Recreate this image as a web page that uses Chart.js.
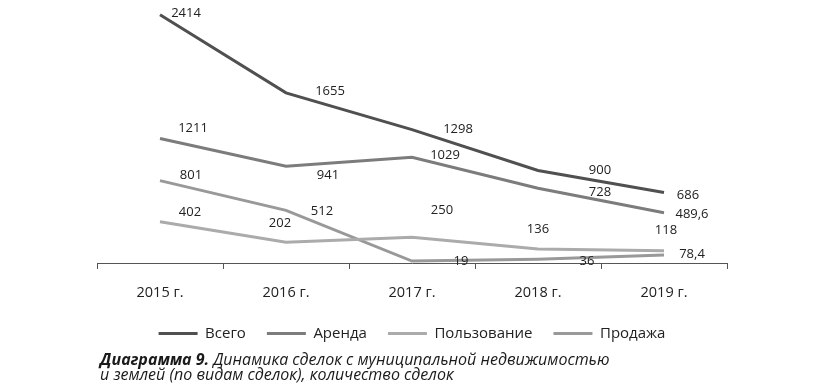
<!DOCTYPE html>
<html lang="ru">
<head>
<meta charset="utf-8">
<script src="https://cdn.jsdelivr.net/npm/chart.js@4.4.1/dist/chart.umd.min.js"></script>
<style>
  html, body { margin: 0; padding: 0; background: #fff; }
  #wrap { position: relative; width: 830px; height: 391px; }
  #chart-box { position: absolute; left: 0; top: 0; width: 830px; height: 351px; }
  #caption {
    position: absolute; left: 100px; top: 352px;
    font-family: "Open Sans", sans-serif; font-style: italic;
    font-size: 16px; line-height: 14.5px; color: #1a1a1a;
    white-space: nowrap;
  }
  #caption b { font-weight: 700; }
</style>
</head>
<body>
<div id="wrap">
  <div id="chart-box"><canvas id="chart"></canvas></div>
  <div id="caption"><b>Диаграмма 9.</b> Динамика сделок с муниципальной недвижимостью<br>и землей (по видам сделок), количество сделок</div>
</div>
<script>
// --- data ---
const years = ['2015 г.', '2016 г.', '2017 г.', '2018 г.', '2019 г.'];
const total = [2414, 1655, 1298, 900, 686];
const rent = [1211, 941, 1029, 728, 489.6];
const usage = [402, 202, 250, 136, 118];
const sales = [801, 512, 19, 36, 78.4];

// label offsets from each point (dx, dy), px
const totalOffsets = [[26, -2], [44, -2], [46, 0], [62, 0], [24, 3]];
const rentOffsets = [[33, -10], [42, 9], [33, -2], [62, 4], [28, 2]];
const usageOffsets = [[30, -9], [-6, -19], [30, -27], [0, -20], [2, -21]];
const salesOffsets = [[31, -5], [36, 1], [49, 0], [49, 2], [28, -1]];

const fmt = v => String(v).replace('.', ',');

// draws value labels next to points
const valueLabels = {
  id: 'valueLabels',
  afterDatasetsDraw(chart) {
    const ctx = chart.ctx;
    ctx.save();
    ctx.font = '13px "Open Sans", sans-serif';
    ctx.fillStyle = '#222';
    ctx.textAlign = 'center';
    ctx.textBaseline = 'middle';
    chart.data.datasets.forEach((ds, i) => {
      const meta = chart.getDatasetMeta(i);
      meta.data.forEach((pt, j) => {
        const off = ds.labelOffsets[j];
        ctx.fillText(fmt(ds.data[j]), pt.x + off[0], pt.y + off[1]);
      });
    });
    ctx.restore();
  }
};

const mk = (label, data, color, offsets) => ({
  label, data,
  borderColor: color,
  backgroundColor: color,
  borderWidth: 3,
  pointRadius: 0,
  tension: 0,
  labelOffsets: offsets,
});

new Chart(document.getElementById('chart'), {
  type: 'line',
  data: {
    labels: years,
    datasets: [
      mk('Всего', total, '#505050', totalOffsets),
      mk('Аренда', rent, '#7c7c7c', rentOffsets),
      mk('Пользование', usage, '#ababab', usageOffsets),
      mk('Продажа', sales, '#999999', salesOffsets),
    ],
  },
  options: {
    responsive: true,
    maintainAspectRatio: false,
    animation: false,
    layout: { padding: { left: 97, right: 103, top: 6, bottom: 0 } },
    plugins: {
      tooltip: { enabled: false },
      legend: {
        position: 'bottom',
        labels: {
          usePointStyle: true,
          pointStyle: 'line',
          pointStyleWidth: 39,
          boxHeight: 3,
          padding: 21,
          color: '#222',
          font: { family: '"Open Sans", sans-serif', size: 15 },
        },
      },
    },
    scales: {
      x: {
        offset: true,
        afterFit: axis => { axis.height = 42; },
        grid: { offset: true, drawOnChartArea: false, drawTicks: true, tickLength: 6, color: '#555' },
        border: { display: true, color: '#555', width: 1 },
        ticks: { color: '#222', padding: 15, font: { family: '"Open Sans", sans-serif', size: 14.5 } },
      },
      y: {
        display: false,
        min: 0,
        max: 2500,
      },
    },
  },
  plugins: [valueLabels],
});
</script>
</body>
</html>
